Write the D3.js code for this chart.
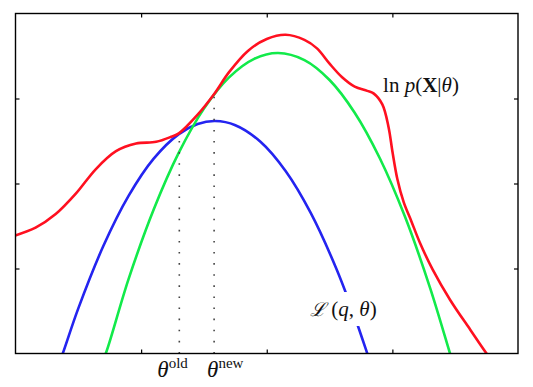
<!DOCTYPE html>
<html>
<head>
<meta charset="utf-8">
<script src="https://cdnjs.cloudflare.com/ajax/libs/d3/7.8.5/d3.min.js"></script>
<style>
  html, body { margin: 0; padding: 0; background: #fff; }
  text { font-family: "Liberation Serif", "DejaVu Serif", serif; fill: #111; }
</style>
</head>
<body>
<svg id="chart" width="533" height="387"></svg>
<script>
// values, in plot units (x: 0..4, y: 0..4)

// ln p(X|theta), red
var logLikX = [-0.02, 0.16, 0.32, 0.48, 0.64, 0.80, 0.96, 1.12, 1.24, 1.30, 1.45, 1.58, 1.70, 1.85,
  2.00, 2.15, 2.30, 2.40, 2.50, 2.60, 2.70, 2.80, 2.85, 2.92, 2.97, 3.00, 3.04, 3.09, 3.15, 3.22, 3.32, 3.46, 3.62, 3.75, 3.80];
var logLikY = [1.38, 1.48, 1.64, 1.88, 2.17, 2.38, 2.47, 2.49, 2.55, 2.59, 2.81, 3.05, 3.31, 3.56,
  3.70, 3.75, 3.69, 3.59, 3.41, 3.25, 3.14, 3.09, 3.06, 2.93, 2.66, 2.38, 2.05, 1.78, 1.56, 1.30, 0.99, 0.63, 0.28, 0.0, -0.09];

// lower bound L(q, theta) at theta_new, green
var boundNewX = [0.70, 0.718, 0.90, 1.10, 1.30, 1.50, 1.70, 1.90, 2.09, 2.30, 2.50, 2.70, 2.90, 3.10, 3.30, 3.459, 3.48];
var boundNewY = [-0.05, 0.0, 0.876, 1.694, 2.363, 2.881, 3.249, 3.467, 3.535, 3.452, 3.218, 2.833, 2.297, 1.611, 0.773, 0.0, -0.1];

// lower bound L(q, theta) at theta_old, blue
var boundOldX = [0.36, 0.376, 0.50, 0.70, 0.90, 1.10, 1.30, 1.45, 1.588, 1.75, 1.95, 2.15, 2.35, 2.55, 2.70, 2.80, 2.82];
var boundOldY = [-0.06, 0.0, 0.531, 1.267, 1.854, 2.292, 2.581, 2.70, 2.735, 2.686, 2.491, 2.147, 1.654, 1.012, 0.433, 0.0, -0.09];

var thetaNames = ["old", "new"];
var thetaValues = [1.304, 1.581];
var thetaTops = [2.51, 3.02];
var axisTicks = [1, 2, 3];

var svg = d3.select("#chart");

var x = d3.scaleLinear().domain([0, 4]).range([15.5, 518]);
var y = d3.scaleLinear().domain([0, 4]).range([353.5, 13.5]);

svg.append("defs").append("clipPath").attr("id", "plotclip")
  .append("rect")
  .attr("x", x(0)).attr("y", y(4))
  .attr("width", x(4) - x(0)).attr("height", y(0) - y(4));

var line = d3.line()
  .x(function(d) { return x(d[0]); })
  .y(function(d) { return y(d[1]); })
  .curve(d3.curveCatmullRom.alpha(0.5));

function pairs(xs, ys) {
  return xs.map(function(v, i) { return [v, ys[i]]; });
}

var curves = svg.append("g").attr("clip-path", "url(#plotclip)");

curves.append("path")
  .datum(pairs(boundOldX, boundOldY))
  .attr("fill", "none").attr("stroke", "#2424f0").attr("stroke-width", 2.6)
  .attr("d", line);

curves.append("path")
  .datum(pairs(boundNewX, boundNewY))
  .attr("fill", "none").attr("stroke", "#12ea4a").attr("stroke-width", 2.6)
  .attr("d", line);

curves.append("path")
  .datum(pairs(logLikX, logLikY))
  .attr("fill", "none").attr("stroke", "#ff1020").attr("stroke-width", 2.6)
  .attr("d", line);

// dotted verticals at theta old / new, dots start at the axis
svg.selectAll("line.drop")
  .data(thetaValues)
  .enter().append("line")
  .attr("class", "drop")
  .attr("x1", function(d) { return x(d); })
  .attr("x2", function(d) { return x(d); })
  .attr("y1", y(0))
  .attr("y2", function(d, i) { return y(thetaTops[i]); })
  .attr("stroke", "#444").attr("stroke-width", 1.6)
  .attr("stroke-dasharray", "1.6,9.5");

// ticks, pointing inward
var tickStyle = function(g) {
  g.select(".domain").remove();
  g.selectAll(".tick line").attr("stroke", "#000").attr("stroke-width", 1.2);
};
svg.append("g").attr("transform", "translate(0," + y(0) + ")")
  .call(d3.axisBottom(x).tickValues(axisTicks).tickSize(-4).tickFormat(""))
  .call(tickStyle);
svg.append("g").attr("transform", "translate(0," + y(4) + ")")
  .call(d3.axisTop(x).tickValues(axisTicks).tickSize(-4).tickFormat(""))
  .call(tickStyle);
svg.append("g").attr("transform", "translate(" + x(0) + ",0)")
  .call(d3.axisLeft(y).tickValues(axisTicks).tickSize(-4).tickFormat(""))
  .call(tickStyle);
svg.append("g").attr("transform", "translate(" + x(4) + ",0)")
  .call(d3.axisRight(y).tickValues(axisTicks).tickSize(-4).tickFormat(""))
  .call(tickStyle);

// frame
svg.append("rect")
  .attr("x", x(0)).attr("y", y(4))
  .attr("width", x(4) - x(0)).attr("height", y(0) - y(4))
  .attr("fill", "none").attr("stroke", "#000").attr("stroke-width", 1.4);

// theta labels under the axis
var thLabel = svg.selectAll("text.theta")
  .data(thetaValues)
  .enter().append("text")
  .attr("class", "theta")
  .attr("x", function(d, i) { return x(d) + (i === 0 ? -22 : -7); })
  .attr("y", 377)
  .style("font-size", "23px");
thLabel.append("tspan").style("font-style", "italic").text("θ");
thLabel.append("tspan").attr("dy", -9).style("font-size", "15px")
  .text(function(d, i) { return thetaNames[i]; });

// ln p(X|theta)
var lp = svg.append("text").attr("x", x(2.926)).attr("y", y(3.076)).style("font-size", "21px");
lp.append("tspan").text("ln ");
lp.append("tspan").style("font-style", "italic").text("p");
lp.append("tspan").text("(");
lp.append("tspan").style("font-weight", "bold").text("X");
lp.append("tspan").text("|");
lp.append("tspan").style("font-style", "italic").text("θ");
lp.append("tspan").text(")");

// L(q, theta) with a white patch behind it
var lqG = svg.append("g");
var lq = lqG.append("text").attr("x", x(2.345)).attr("y", y(0.441)).style("font-size", "21px");
lq.append("tspan").style("font-family", "'DejaVu Serif', serif").style("font-style", "italic").style("font-size", "19px").text("ℒ");
lq.append("tspan").text(" (");
lq.append("tspan").style("font-style", "italic").text("q");
lq.append("tspan").text(", ");
lq.append("tspan").style("font-style", "italic").text("θ");
lq.append("tspan").text(")");
var bb = lq.node().getBBox();
lqG.insert("rect", "text")
  .attr("x", bb.x - 3).attr("y", bb.y - 5)
  .attr("width", bb.width + 6).attr("height", bb.height + 10)
  .attr("fill", "#fff");
</script>
</body>
</html>
